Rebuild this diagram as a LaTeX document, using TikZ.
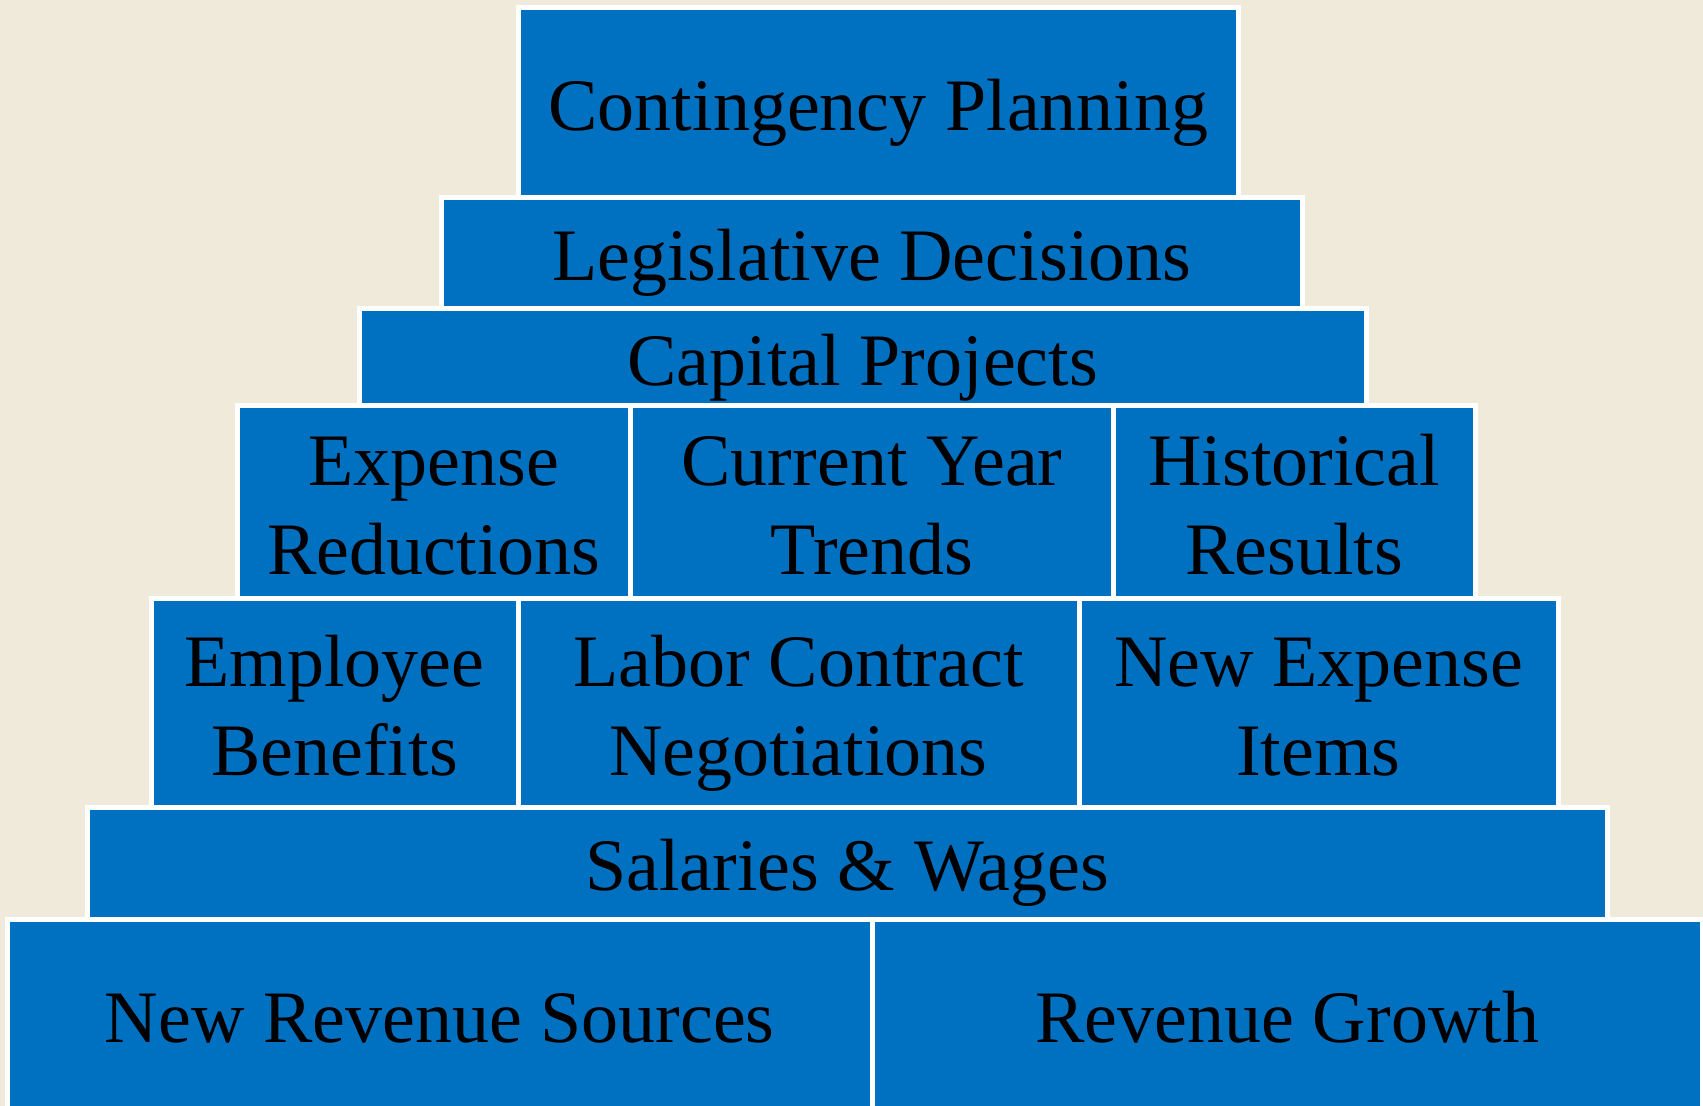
\documentclass[tikz,border=0pt]{standalone}
\usepackage{fontspec}
\setmainfont{Liberation Serif}
\definecolor{bgcream}{RGB}{239,234,217}
\definecolor{tileblue}{RGB}{0,112,192}
\begin{document}
\begin{tikzpicture}[x=0.5pt,y=-0.5pt,
  tile/.style={fill=tileblue,draw=white,line width=2.5pt},
  tiletext/.style={font=\fontsize{37}{44.5}\selectfont,align=center,text=black,inner sep=0pt,anchor=base}]
\useasboundingbox (0,0) rectangle (1703,1106);
\clip (0,0) rectangle (1703,1106);
\fill[bgcream] (0,0) rectangle (1703,1106);
% tiles
\path[tile] (518.5,7.5) rectangle (1238.5,197.5);
\path[tile] (441.5,198) rectangle (1302,309);
\path[tile] (359,309) rectangle (1366.5,406);
\path[tile] (237.5,406) rectangle (630.5,599);
\path[tile] (630.5,406) rectangle (1113.5,599);
\path[tile] (1113.5,406) rectangle (1475,599);
\path[tile] (151,599) rectangle (518,807);
\path[tile] (518,599) rectangle (1079,807);
\path[tile] (1079,599) rectangle (1558,807);
\path[tile] (87.5,807) rectangle (1607,919);
\path[tile] (7.5,919) rectangle (872,1125);
\path[tile] (872,919) rectangle (1702.5,1125);
% texts (base anchor = baseline of the last line)
\node[tiletext] (cont) at (878.5,131) {Contingency Planning};
\node[tiletext] (legis) at (871.75,281) {Legislative Decisions};
\node[tiletext] (capital) at (862.75,386) {Capital Projects};
\node[tiletext] (expense) at (434,575) {Expense\\Reductions};
\node[tiletext] (current) at (872,575) {Current Year\\Trends};
\node[tiletext] (historical) at (1294.25,575) {Historical\\Results};
\node[tiletext] (employee) at (334.5,775.5) {Employee\\Benefits};
\node[tiletext] (labor) at (798.5,775.5) {Labor Contract\\Negotiations};
\node[tiletext] (newexp) at (1318.5,775.5) {New Expense\\Items};
\node[tiletext] (salaries) at (847.25,890) {Salaries \& Wages};
\node[tiletext] (newrev) at (439.75,1042) {New Revenue Sources};
\node[tiletext] (revgrowth) at (1287.25,1042) {Revenue Growth};
\end{tikzpicture}
\end{document}
